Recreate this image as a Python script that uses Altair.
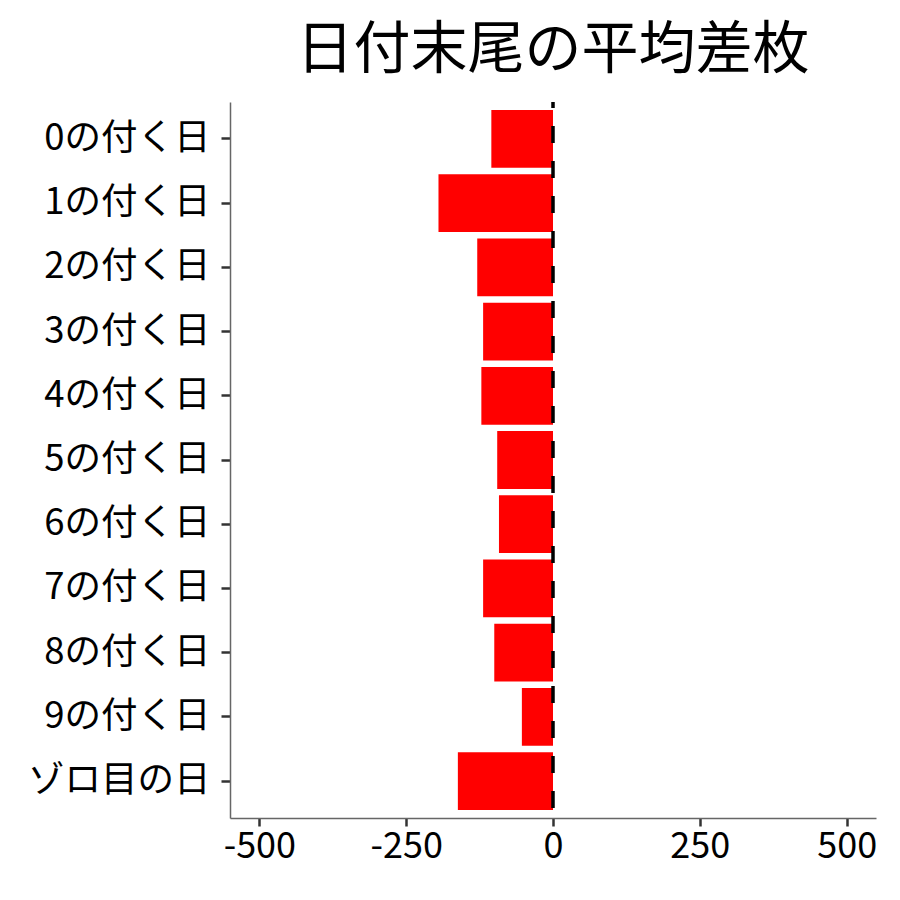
import altair as alt
import pandas as pd

categories = ["0の付く日", "1の付く日", "2の付く日", "3の付く日", "4の付く日",
              "5の付く日", "6の付く日", "7の付く日", "8の付く日", "9の付く日", "ゾロ目の日"]
values = [-105, -195, -129, -119, -122, -95, -92, -119, -100, -53, -162]
x_ticks = [-500, -250, 0, 250, 500]
ref_line = [0]

FONT = "Noto Sans CJK JP"

df = pd.DataFrame({"day": categories, "diff": values})
ref = pd.DataFrame({"x": ref_line})

x_scale = alt.Scale(domain=[-550, 550], nice=False, zero=False)

bars = alt.Chart(df).mark_bar(color="#FF0000").encode(
    x=alt.X("diff:Q", scale=x_scale,
            axis=alt.Axis(values=x_ticks, title=None, grid=False,
                          labelExpr="datum.value + ''",
                          labelFontSize=36, labelFont=FONT, labelColor="#000000",
                          domainColor="#666666", domainWidth=1.5,
                          tickColor="#333333", tickWidth=2.5, tickSize=8,
                          labelPadding=3)),
    y=alt.Y("day:N", sort=categories,
            scale=alt.Scale(paddingInner=0.1, paddingOuter=0.125),
            axis=alt.Axis(title=None, grid=False, labelLimit=400,
                          labelFontSize=36.5, labelFont=FONT, labelColor="#000000",
                          domainColor="#666666", domainWidth=1.5,
                          tickColor="#333333", tickWidth=2.5, tickSize=9,
                          labelPadding=11)),
)

rule = alt.Chart(ref).mark_rule(color="#000000", strokeWidth=3.5,
                                strokeDash=[17, 18], strokeDashOffset=11).encode(
    x=alt.X("x:Q", scale=x_scale)
)

chart = alt.layer(bars, rule).properties(
    width=646,
    height=716,
    title=alt.TitleParams("日付末尾の平均差枚", font=FONT, fontSize=57,
                          fontWeight="normal", color="#000000",
                          anchor="middle", offset=20),
    autosize=alt.AutoSizeParams(type="none"),
    padding={"left": 222, "top": 94, "right": 10, "bottom": 60},
).configure_view(stroke=None)

chart.save("out.html", embed_options={"renderer": "svg", "actions": False})
